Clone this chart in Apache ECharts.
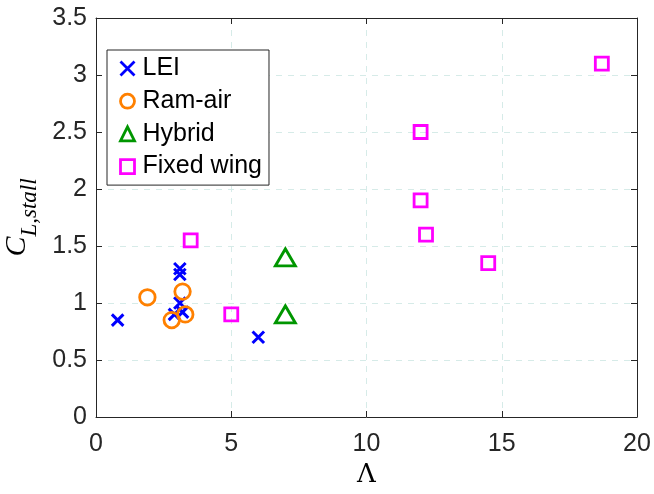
<!DOCTYPE html>
<html><head><meta charset="utf-8">
<script src="https://cdn.jsdelivr.net/npm/echarts@6/dist/echarts.min.js"></script>
<style>html,body{margin:0;padding:0;background:#fff}#c{width:654px;height:494px}</style>
</head><body><div id="c"></div>
<script>
const leiX = [0.8, 3.1, 3.1, 2.9, 3.1, 3.2, 6.0];
const leiY = [0.85, 1.3, 1.25, 0.9, 1.0, 0.92, 0.7];
const ramX = [1.9, 3.2, 2.8, 3.3];
const ramY = [1.05, 1.1, 0.85, 0.9];
const hybX = [7, 7];
const hybY = [1.4, 0.9];
const fixX = [3.5, 5, 12, 12, 12.2, 14.5, 18.7];
const fixY = [1.55, 0.9, 2.5, 1.9, 1.6, 1.35, 3.1];
const seriesNames = ['LEI', 'Ram-air', 'Hybrid', 'Fixed wing'];
const xTicks = [0, 5, 10, 15, 20];
const yTicks = [0, 0.5, 1, 1.5, 2, 2.5, 3, 3.5];

const pair = (xs, ys) => xs.map((x, i) => [x, ys[i]]);
const axisCol = '#262626';
const gridCol = '#d6ebe8';
const fontF = '"Liberation Sans", Arial, sans-serif';

const chart = echarts.init(document.getElementById('c'), null, {renderer: 'canvas'});
const baseAxis = {
  type: 'value',
  axisLine: {show: true, onZero: false, lineStyle: {color: axisCol, width: 1}},
  axisTick: {show: true, inside: true, length: 6, lineStyle: {color: axisCol}},
};
chart.setOption({
  animation: false,
  grid: {left: 96, right: 17, top: 18, bottom: 77, containLabel: false, outerBoundsMode: 'none'},
  legend: {
    orient: 'vertical', left: 107, top: 50,
    backgroundColor: '#fff',
    borderColor: axisCol, borderWidth: 1,
    padding: [6, 7, 6, 11],
    itemGap: 7.7, itemWidth: 14, itemHeight: 14,
    itemStyle: {borderWidth: 2.8},
    textStyle: {fontFamily: fontF, fontSize: 25, lineHeight: 25, color: '#000', padding: [0, 0, 0, 3]},
    data: seriesNames
  },
  xAxis: [
    Object.assign({}, baseAxis, {
      min: xTicks[0], max: xTicks[xTicks.length - 1], interval: 5, position: 'bottom',
      axisLabel: {fontFamily: fontF, fontSize: 25, color: axisCol, margin: 15},
      splitLine: {show: true, lineStyle: {color: gridCol, type: [6, 6], width: 1}},
      name: 'Λ', nameLocation: 'middle', nameGap: 44,
      nameTextStyle: {fontFamily: '"DejaVu Serif", "Liberation Serif", serif', fontSize: 26, color: '#000'}
    }),
    Object.assign({}, baseAxis, {
      min: xTicks[0], max: xTicks[xTicks.length - 1], interval: 5, position: 'top',
      axisLabel: {show: false}, splitLine: {show: false}
    })
  ],
  yAxis: [
    Object.assign({}, baseAxis, {
      min: yTicks[0], max: yTicks[yTicks.length - 1], interval: 0.5, position: 'left',
      axisLabel: {fontFamily: fontF, fontSize: 25, color: axisCol, margin: 9},
      splitLine: {show: true, lineStyle: {color: gridCol, type: [6, 6], width: 1}},
      name: '{c|C}{s|L,stall}', nameLocation: 'middle', nameGap: 59, nameRotate: 90,
      nameTextStyle: {
        rich: {
          c: {fontFamily: '"Liberation Serif", serif', fontStyle: 'italic', fontSize: 30, color: '#000'},
          s: {fontFamily: '"Liberation Serif", serif', fontStyle: 'italic', fontSize: 23, color: '#000', verticalAlign: 'bottom', padding: [0, 0, -9, 0]}
        }
      }
    }),
    Object.assign({}, baseAxis, {
      min: yTicks[0], max: yTicks[yTicks.length - 1], interval: 0.5, position: 'right',
      axisLabel: {show: false}, splitLine: {show: false}
    })
  ],
  series: [
    {
      name: seriesNames[0], type: 'scatter', data: pair(leiX, leiY),
      symbol: 'path://M0,0L10,10M10,0L0,10', symbolSize: 11.5,
      itemStyle: {color: 'none', borderColor: '#0000ff', borderWidth: 3, opacity: 1}
    },
    {
      name: seriesNames[1], type: 'scatter', data: pair(ramX, ramY),
      symbol: 'circle', symbolSize: 15.5,
      itemStyle: {color: 'none', borderColor: '#ff8000', borderWidth: 2.8, opacity: 1}
    },
    {
      name: seriesNames[2], type: 'scatter', data: pair(hybX, hybY),
      symbol: 'triangle', symbolSize: [20, 17],
      itemStyle: {color: 'none', borderColor: '#009600', borderWidth: 2.8, opacity: 1}
    },
    {
      name: seriesNames[3], type: 'scatter', data: pair(fixX, fixY),
      symbol: 'rect', symbolSize: 13,
      itemStyle: {color: 'none', borderColor: '#ff00ff', borderWidth: 2.8, opacity: 1}
    }
  ]
});
</script></body></html>
